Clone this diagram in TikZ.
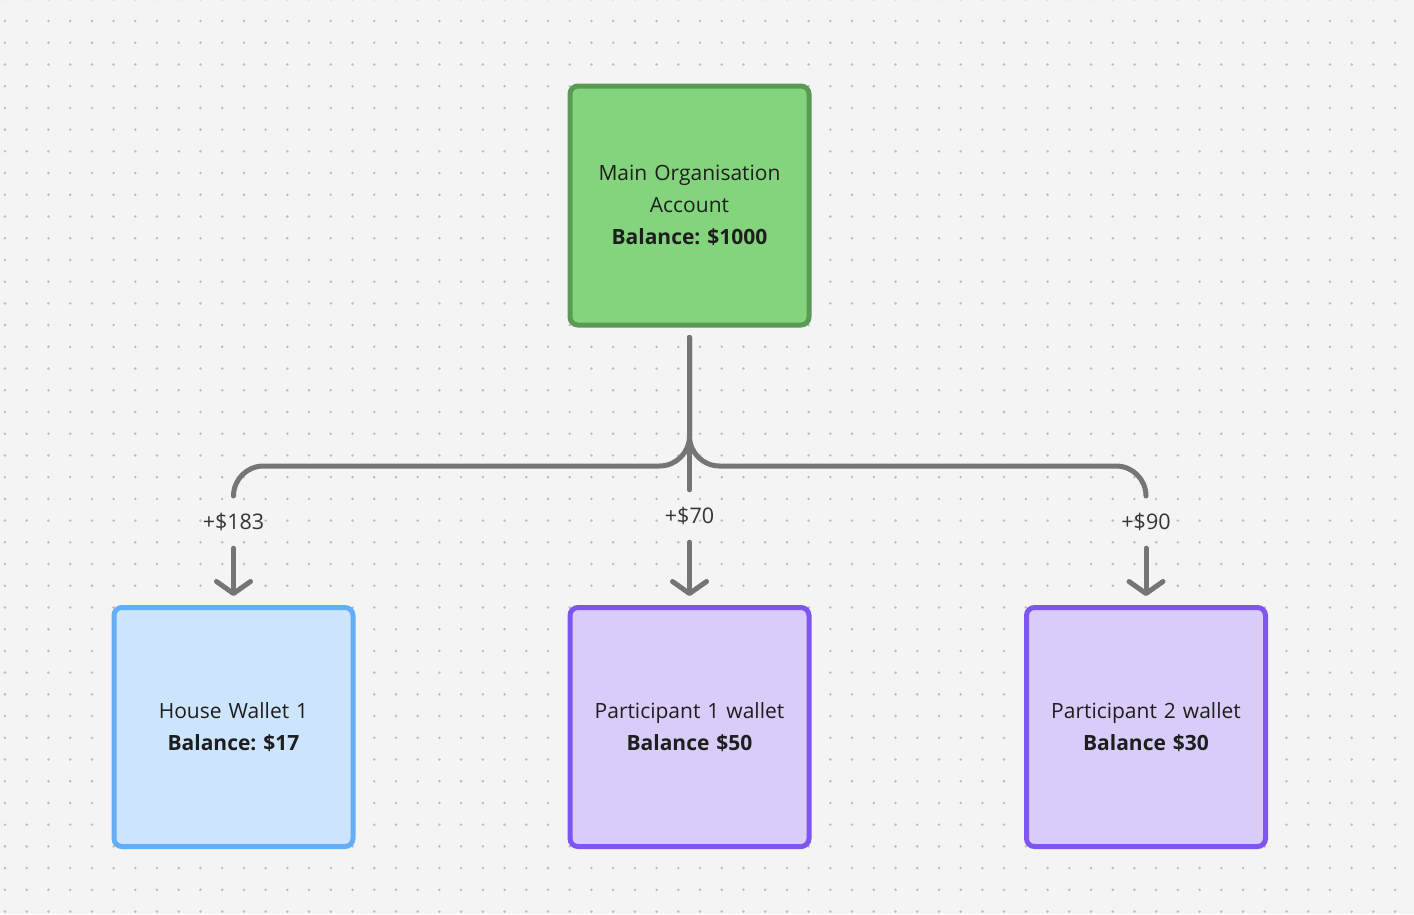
\documentclass[tikz,border=0pt]{standalone}
\usepackage{fontspec}
\setmainfont{Open Sans}
\usepackage{tikz}
\usetikzlibrary{arrows.meta,positioning,calc}
\frenchspacing

\definecolor{bgc}{HTML}{F4F4F4}
\definecolor{dotc}{HTML}{BEBEBE}
\definecolor{linec}{HTML}{757575}
\definecolor{textc}{HTML}{1E1E1E}
\definecolor{greenfill}{HTML}{84D47E}
\definecolor{greenline}{HTML}{5A9A56}
\definecolor{bluefill}{HTML}{CCE5FC}
\definecolor{blueline}{HTML}{64AEF8}
\definecolor{purplefill}{HTML}{D9CCF8}
\definecolor{purpleline}{HTML}{7E55F0}

\begin{document}
\begin{tikzpicture}[
    x=1pt, y=-1pt,
    account/.style={rectangle, draw, line width=5pt, rounded corners=8pt, minimum width=239pt, minimum height=239pt, text width=224pt, align=center, text=textc, font=\fontsize{21}{32}\selectfont},
    mainacc/.style={account, fill=greenfill, draw=greenline},
    housewallet/.style={account, fill=bluefill, draw=blueline},
    wallet/.style={account, fill=purplefill, draw=purpleline},
    amount/.style={inner sep=0pt, minimum height=52pt, text=textc!90, font=\fontsize{21.5}{24}\selectfont},
    flow/.style={draw=linec, line width=5pt, line cap=round, line join=round, rounded corners=30pt},
    arrow/.style={draw=linec, line width=5pt, line cap=round, -{Straight Barb[length=12pt, width=34pt, line cap=round, round]}, shorten >=9pt}
]
    % Background and dot grid
    \fill[bgc] (0,0) rectangle (1414,914);
    \useasboundingbox (0,0) rectangle (1414,914);
    \foreach \i in {0,...,65} {
        \foreach \j in {0,...,42} {
            \fill[dotc] (5+21.72*\i, -0.7+21.72*\j) circle (1.4);
        }
    }

    % Accounts
    \node[mainacc] (main) at (689.5,205.5) {Main Organisation\\Account\\\textbf{Balance: \$1000}};
    \node[housewallet] (house) at (233.5,727) {House Wallet 1\\\textbf{Balance: \$17}};
    \node[wallet] (part1) at (689.5,727) {Participant 1 wallet\\\textbf{Balance \$50}};
    \node[wallet] (part2) at (1146,727) {Participant 2 wallet\\\textbf{Balance \$30}};

    % Amounts
    \node[amount] (amthouse) at (233.5,522) {+\$183};
    \node[amount] (amtpart1) at (689.5,516) {+\$70};
    \node[amount] (amtpart2) at (1146,522) {+\$90};
    \coordinate (hub) at (689.5,466);

    % Transfers
    \draw[flow] ([yshift=-10pt]main.south) -- (main.south |- hub) -| (amthouse.north);
    \draw[flow] ([yshift=-10pt]main.south) -- (main.south |- hub) -| (amtpart2.north);
    \draw[flow] ([yshift=-10pt]main.south) -- (amtpart1.north);
    \draw[arrow] (amthouse) -- (house);
    \draw[arrow] (amtpart1) -- (part1);
    \draw[arrow] (amtpart2) -- (part2);

\end{tikzpicture}
\end{document}
